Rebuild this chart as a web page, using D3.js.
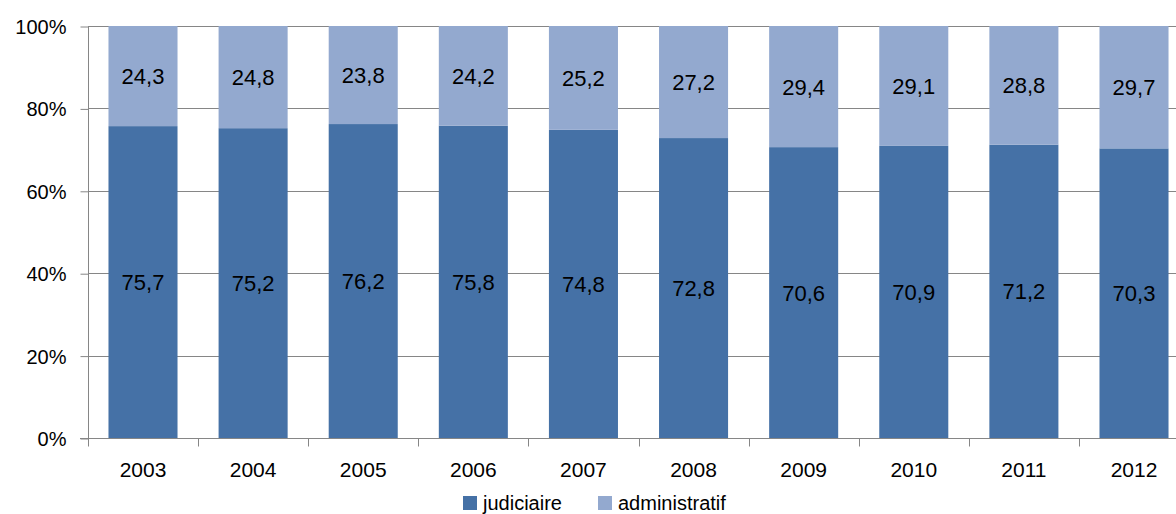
<!DOCTYPE html>
<html>
<head>
<meta charset="utf-8">
<script src="https://cdn.jsdelivr.net/npm/d3@7"></script>
<style>
  body { margin: 0; background: #fff; }
  svg { display: block; }
</style>
</head>
<body>
<div id="chart"></div>
<script>
// categories and series (percent shares)
var years = ["2003", "2004", "2005", "2006", "2007", "2008", "2009", "2010", "2011", "2012"];
var judiciaire = [75.7, 75.2, 76.2, 75.8, 74.8, 72.8, 70.6, 70.9, 71.2, 70.3];
var administratif = [24.3, 24.8, 23.8, 24.2, 25.2, 27.2, 29.4, 29.1, 28.8, 29.7];
var yTicks = [0, 20, 40, 60, 80, 100];
var seriesNames = ["judiciaire", "administratif"];

var width = 1176;
var height = 514;
var fontFamily = "'Liberation Sans', Arial, sans-serif";
var colour = d3.scaleOrdinal()
    .domain(seriesNames)
    .range(["#4571A6", "#93A9CF"]);
var axisColour = "#868686";

var plotLeft = 88, plotRight = 1189, plotTop = 26, plotBottom = 438;

var x = d3.scaleBand()
    .domain(years)
    .range([plotLeft, plotRight])
    .paddingInner(0.373)
    .paddingOuter(0.186);

var y = d3.scaleLinear()
    .domain([0, 100])
    .range([plotBottom, plotTop]);

var svg = d3.select("#chart")
    .append("svg")
    .attr("width", width)
    .attr("height", height);

// gridlines
svg.selectAll(".grid")
    .data(yTicks.slice(1))
    .enter()
    .append("line")
    .attr("x1", plotLeft)
    .attr("x2", width)
    .attr("y1", function (d) { return Math.round(y(d)) + 0.5; })
    .attr("y2", function (d) { return Math.round(y(d)) + 0.5; })
    .style("stroke", axisColour)
    .style("stroke-width", 1);

// stacked data
var table = years.map(function (yr, i) {
    return { year: yr, judiciaire: judiciaire[i], administratif: administratif[i] };
});
var stacked = d3.stack().keys(seriesNames)(table);

var layers = svg.selectAll(".layer")
    .data(stacked)
    .enter()
    .append("g")
    .attr("class", "layer")
    .style("fill", function (d) { return colour(d.key); });

layers.selectAll("rect")
    .data(function (d) { return d; })
    .enter()
    .append("rect")
    .attr("x", function (d) { return x(d.data.year); })
    .attr("width", x.bandwidth())
    .attr("y", function (d) { return y(d[1]); })
    .attr("height", function (d) { return y(d[0]) - y(d[1]); });

// value labels
layers.selectAll("text")
    .data(function (d) { return d; })
    .enter()
    .append("text")
    .attr("x", function (d) { return x(d.data.year) + x.bandwidth() / 2; })
    .attr("y", function (d) { return (y(d[0]) + y(d[1])) / 2 + 8; })
    .attr("text-anchor", "middle")
    .style("fill", "#000")
    .style("font-family", fontFamily)
    .style("font-size", "22px")
    .text(function (d) { return d3.format(".1f")(d[1] - d[0]).replace(".", ","); });

// y axis
var yAxis = d3.axisLeft(y)
    .tickValues(yTicks)
    .tickSize(8)
    .tickPadding(14)
    .tickFormat(function (d) { return d + "%"; });

var gy = svg.append("g")
    .attr("transform", "translate(" + (plotLeft + 0.5) + ",0.5)")
    .call(yAxis);
gy.selectAll("line, path").style("stroke", axisColour);
gy.select(".domain").attr("d", "M0," + y(100) + "V" + y(0));
gy.selectAll("text")
    .style("font-family", fontFamily)
    .style("font-size", "20px")
    .style("fill", "#000")
    .attr("dy", "0.35em");

// x axis line with ticks on category boundaries
var gx = svg.append("g")
    .attr("transform", "translate(0," + (Math.round(plotBottom) + 0.5) + ")");
gx.append("line")
    .attr("x1", plotLeft - 8)
    .attr("x2", width)
    .style("stroke", axisColour);
var step = x.step();
gx.selectAll(".tick")
    .data(d3.range(years.length + 1))
    .enter()
    .append("line")
    .attr("x1", function (i) { return Math.round(plotLeft + i * step) + 0.5; })
    .attr("x2", function (i) { return Math.round(plotLeft + i * step) + 0.5; })
    .attr("y1", 0)
    .attr("y2", 8)
    .style("stroke", axisColour);
gx.selectAll(".lbl")
    .data(years)
    .enter()
    .append("text")
    .attr("x", function (d) { return x(d) + x.bandwidth() / 2; })
    .attr("y", 38)
    .attr("text-anchor", "middle")
    .style("font-family", fontFamily)
    .style("font-size", "21px")
    .style("fill", "#000")
    .text(function (d) { return d; });

// legend
var legendX = [463, 598];
var legend = svg.selectAll(".legend")
    .data(seriesNames)
    .enter()
    .append("g")
    .attr("class", "legend")
    .attr("transform", function (d, i) { return "translate(" + legendX[i] + ",496)"; });

legend.append("rect")
    .attr("width", 14)
    .attr("height", 14)
    .style("fill", colour);

legend.append("text")
    .attr("x", 20)
    .attr("y", 14)
    .style("fill", "#000")
    .style("font-family", fontFamily)
    .style("font-size", "20px")
    .text(function (d) { return d; });
</script>
</body>
</html>
